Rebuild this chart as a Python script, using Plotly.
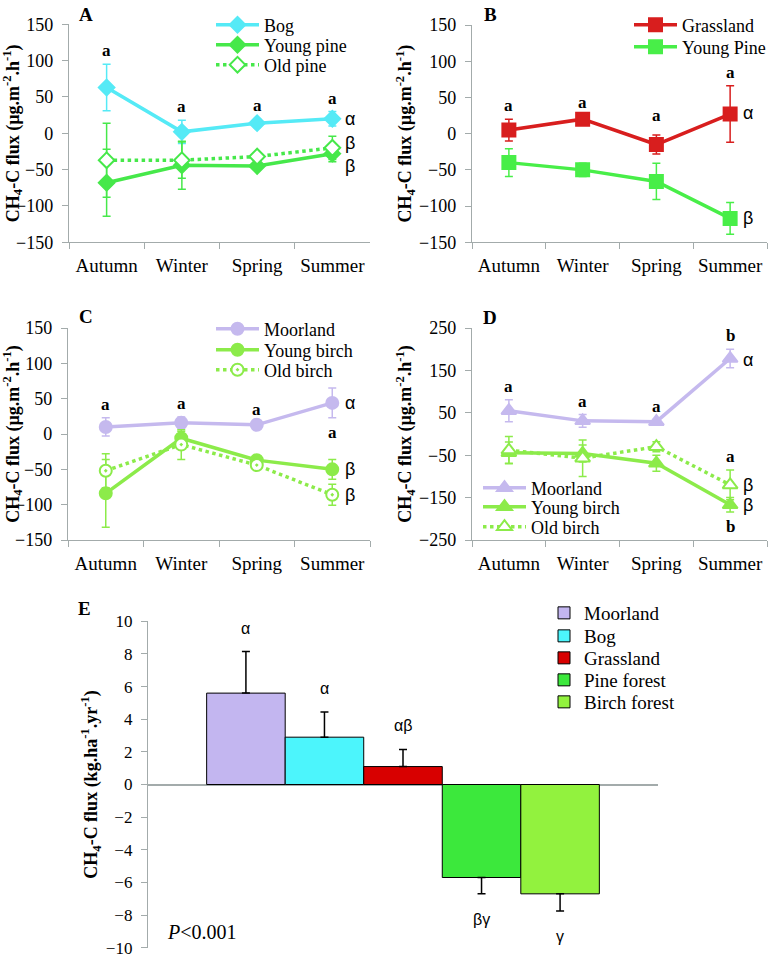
import plotly.graph_objects as go

W, H = 782, 957

seasons = ["Autumn", "Winter", "Spring", "Summer"]

# ---- Panel A (µg m-2 h-1)
bog_A = [63, 2, 14, 20]
bog_A_err = [32, 16, 6, 10]
ypine_A = [-68, -44, -45, -28]
ypine_A_err = [46, 33, 4, 11]
opine_A = [-37, -37, -32, -20]
opine_A_err = [51, 25, 5, 16]

# ---- Panel B
grass_B = [5, 20, -15, 27]
grass_B_err = [15, 5, 13, 39]
ypine_B = [-40, -50, -66, -117]
ypine_B_err = [19, 9, 25, 22]

# ---- Panel C
moor_C = [10, 16, 13, 44]
moor_C_err = [13, 8, 3, 21]
ybirch_C = [-84, -6, -37, -50]
ybirch_C_err = [48, 10, 5, 14]
obirch_C = [-52, -15, -44, -86]
obirch_C_err = [24, 21, 6, 15]

# ---- Panel D
moor_D = [55, 31, 29, 178]
moor_D_err = [26, 15, 5, 22]
ybirch_D = [-44, -46, -69, -167]
ybirch_D_err = [25, 20, 19, 17]
obirch_D = [-38, -57, -30, -120]
obirch_D_err = [32, 43, 12, 35]

# ---- Panel E (kg ha-1 yr-1)
land_uses = ["Moorland", "Bog", "Grassland", "Pine forest", "Birch forest"]
annual_flux = [5.6, 2.9, 1.1, -5.7, -6.7]
annual_err = [2.55, 1.55, 1.05, 1.0, 1.05]
annual_letters = ["α", "α", "αβ", "βγ", "γ"]

CYAN = "#55EAF6"
PINE = "#46E84A"
RED = "#D81E1E"
LAV = "#C5B9EE"
BIRCH = "#8CEB4A"
bar_colors = ["#C3B6F0", "#4CF5FC", "#D80000", "#3CE83C", "#92F23E"]

AXC = "#A3ABAB"
SERIF = "Liberation Serif"
SANS = "Liberation Sans"

fig = go.Figure()

legend_layout = {}
leg_count = [1]


def new_legend(px, py, size=18, itemwidth=43):
    leg_count[0] += 1
    key = "legend%d" % leg_count[0]
    legend_layout[key] = dict(
        x=px / W, y=1 - py / H, xanchor="left", yanchor="middle",
        bgcolor="rgba(0,0,0,0)", font=dict(family=SERIF, size=size, color="black"),
        itemclick=False, itemdoubleclick=False, itemwidth=itemwidth)
    return key


def add_series(name, y, err, color, symbol, size, dash, open_marker, n, leg_pos):
    sx = "" if n == 1 else str(n)
    fig.add_trace(go.Scatter(
        x=seasons, y=y, name=name, mode="lines+markers",
        line=dict(color=color, width=3.5, dash=dash),
        marker=dict(symbol=symbol, size=size,
                    color="white" if open_marker else color,
                    line=dict(color=color, width=2)),
        error_y=dict(type="data", array=err, color=color, thickness=1.5, width=4),
        xaxis="x" + sx, yaxis="y" + sx,
        legend=new_legend(*leg_pos),
    ))


add_series("Bog", bog_A, bog_A_err, CYAN, "diamond", 12, "solid", False, 1, (211, 25))
add_series("Young pine", ypine_A, ypine_A_err, PINE, "diamond", 12, "solid", False, 1, (211, 45))
add_series("Old pine", opine_A, opine_A_err, PINE, "diamond", 12, "dot", True, 1, (211, 65))

add_series("Grassland", grass_B, grass_B_err, RED, "square", 13, "solid", False, 2, (629, 25))
add_series("Young Pine", ypine_B, ypine_B_err, "#48EE48", "square", 13, "solid", False, 2, (629, 47))

add_series("Moorland", moor_C, moor_C_err, LAV, "circle", 12, "solid", False, 3, (211, 329))
add_series("Young birch", ybirch_C, ybirch_C_err, BIRCH, "circle", 12, "solid", False, 3, (211, 350))
add_series("Old birch", obirch_C, obirch_C_err, BIRCH, "circle-dot", 12, "dot", True, 3, (211, 370))

add_series("Moorland", moor_D, moor_D_err, LAV, "triangle-up", 13, "solid", False, 4, (478, 488))
add_series("Young birch", ybirch_D, ybirch_D_err, BIRCH, "triangle-up", 13, "solid", False, 4, (478, 507))
add_series("Old birch", obirch_D, obirch_D_err, BIRCH, "triangle-up", 13, "dot", True, 4, (478, 527))

# Panel E bars
E_leg_rows = [613, 636, 658, 680, 702]
for name, v, e, c, ry in zip(land_uses, annual_flux, annual_err, bar_colors, E_leg_rows):
    up = e if v >= 0 else 0
    dn = e if v < 0 else 0
    fig.add_trace(go.Bar(
        x=["all"], y=[v], name=name, marker=dict(color=c, line=dict(color="black", width=1)),
        error_y=dict(type="data", symmetric=False, array=[up], arrayminus=[dn],
                     color="black", thickness=1.5, width=4),
        xaxis="x5", yaxis="y5", legend=new_legend(544, ry, 19, 30),
    ))

# ---- annotations: significance letters
ann = []


def letter(n, x, yv, text, above=True, shift=2):
    sx = "" if n == 1 else str(n)
    ann.append(dict(
        x=x, y=yv, xref="x" + sx, yref="y" + sx,
        text="<b>" + text + "</b>", showarrow=False, xanchor="center",
        yanchor="bottom" if above else "top", yshift=shift if above else -shift,
        font=dict(family=SERIF, size=17, color="black")))


def greek(n, yv, text):
    sx = "" if n == 1 else str(n)
    ann.append(dict(
        x="Summer", y=yv, xref="x" + sx, yref="y" + sx,
        text=text, showarrow=False, xshift=18, xanchor="center", yanchor="middle",
        font=dict(family=SANS, size=18, color="black")))


for s, v, e in zip(seasons, bog_A, bog_A_err):
    letter(1, s, v + e, "a")
for s, v, e, sh in zip(seasons, grass_B, grass_B_err, [2, 2, 8, 2]):
    letter(2, s, v + e, "a", shift=sh)
for s, v, e in zip(seasons[:3], moor_C[:3], moor_C_err[:3]):
    letter(3, s, v + e, "a")
letter(3, "Summer", moor_C[3] - moor_C_err[3], "a", above=False, shift=3)
for s, v, e in zip(seasons[:3], moor_D[:3], moor_D_err[:3]):
    letter(4, s, v + e, "a")
letter(4, "Summer", moor_D[3] + moor_D_err[3], "b")
letter(4, "Summer", obirch_D[3] + obirch_D_err[3], "a")
letter(4, "Summer", ybirch_D[3] - ybirch_D_err[3], "b", above=False, shift=3)

greek_A = [("α", 20), ("β", -13), ("β", -45)]
greek_B = [("α", 28), ("β", -117)]
greek_C = [("α", 44), ("β", -50), ("β", -86)]
greek_D = [("α", 175), ("β", -120), ("β", -168)]
for n, lst in [(1, greek_A), (2, greek_B), (3, greek_C), (4, greek_D)]:
    for t, yv in lst:
        greek(n, yv, t)

# Panel E letters
bar_offsets = [-2, -1, 0, 1, 2]
bar_px = 0.77 * 510 / 5
for k, (v, e, t) in enumerate(zip(annual_flux, annual_err, annual_letters)):
    ann.append(dict(
        x="all", y=v + e if v >= 0 else v - e, xref="x5", yref="y5",
        text=t, showarrow=False, xshift=bar_offsets[k] * bar_px, xanchor="center",
        yanchor="bottom" if v >= 0 else "top", yshift=13 if v >= 0 else -15,
        font=dict(family=SANS, size=16, color="black")))

# Panel letters and P value
for lab, px, py in [("A", 86, 14), ("B", 490, 14), ("C", 86, 316), ("D", 490, 317), ("E", 84, 608)]:
    ann.append(dict(x=px / W, y=1 - py / H, xref="paper", yref="paper", text="<b>" + lab + "</b>",
                    showarrow=False, xanchor="center", yanchor="middle",
                    font=dict(family=SERIF, size=19, color="black")))
ann.append(dict(x=202 / W, y=1 - 932 / H, xref="paper", yref="paper", text="<i>P</i>&lt;0.001",
                showarrow=False, xanchor="center", yanchor="middle",
                font=dict(family=SERIF, size=20, color="black")))

# ---- axes
ytitle = "<b>CH<sub>4</sub>-C flux (µg.m<sup>-2</sup>.h<sup>-1</sup>)</b>"
ytitleE = "<b>CH<sub>4</sub>-C flux (kg.ha<sup>-1</sup>.yr<sup>-1</sup>)</b>"

panels = {
    1: dict(x=(69, 370), y=(24.3, 242.3), r=(-150, 150), dt=50),
    2: dict(x=(472, 767), y=(25, 242.3), r=(-150, 150), dt=50),
    3: dict(x=(68, 370), y=(328, 540), r=(-150, 150), dt=50),
    4: dict(x=(472, 767), y=(328, 540), r=(-250, 250), dt=100),
}
layout_axes = {}
for n, p in panels.items():
    sx = "" if n == 1 else str(n)
    layout_axes["xaxis" + sx] = dict(
        domain=[p["x"][0] / W, p["x"][1] / W], anchor="y" + sx, automargin=False,
        type="category", categoryorder="array", categoryarray=seasons, range=[-0.5, 3.5],
        showline=True, linecolor=AXC, linewidth=1.3, ticks="outside", tickson="boundaries",
        ticklen=6, tickcolor=AXC, showgrid=False, zeroline=False, ticklabelstandoff=6,
        tickangle=0,
        tickfont=dict(family=SERIF, size=19, color="black"), fixedrange=True)
    layout_axes["yaxis" + sx] = dict(
        domain=[1 - p["y"][1] / H, 1 - p["y"][0] / H], anchor="x" + sx, automargin=False,
        range=list(p["r"]), dtick=p["dt"], tick0=p["r"][0],
        showline=True, linecolor=AXC, linewidth=1.3, ticks="outside", ticklen=6, tickcolor=AXC,
        showgrid=False, zeroline=False, ticklabelstandoff=5,
        tickfont=dict(family=SERIF, size=18, color="black"),
        title=dict(text=ytitle, standoff=2, font=dict(family=SERIF, size=18, color="black")))

layout_axes["xaxis5"] = dict(
    domain=[148 / W, 658 / W], anchor="y5", type="category", visible=False, showgrid=False,
    automargin=False)
layout_axes["yaxis5"] = dict(
    domain=[1 - 948 / H, 1 - 621 / H], anchor="x5", range=[-10.02, 10.02], automargin=False,
    tickmode="array", tickvals=[-10, -8, -6, -4, -2, 0, 2, 4, 6, 8, 10],
    ticklabeloverflow="allow",
    showline=True, linecolor=AXC, linewidth=1.3, ticks="outside", ticklen=6, tickcolor=AXC,
    showgrid=False, zeroline=True, zerolinecolor=AXC, zerolinewidth=1.5, ticklabelstandoff=5,
    tickfont=dict(family=SERIF, size=17, color="black"),
    title=dict(text=ytitleE, standoff=3, font=dict(family=SERIF, size=18, color="black")))

fig.update_layout(
    width=W, height=H, margin=dict(l=0, r=0, t=0, b=0, autoexpand=False),
    paper_bgcolor="white", plot_bgcolor="white",
    font=dict(family=SERIF, color="black"),
    barmode="group", bargap=0.23, bargroupgap=0,
    showlegend=True,
    annotations=ann,
    **legend_layout,
    **layout_axes,
)

fig.write_html("out.html", config={"displayModeBar": False},
               post_script="document.body.style.margin='0';")
